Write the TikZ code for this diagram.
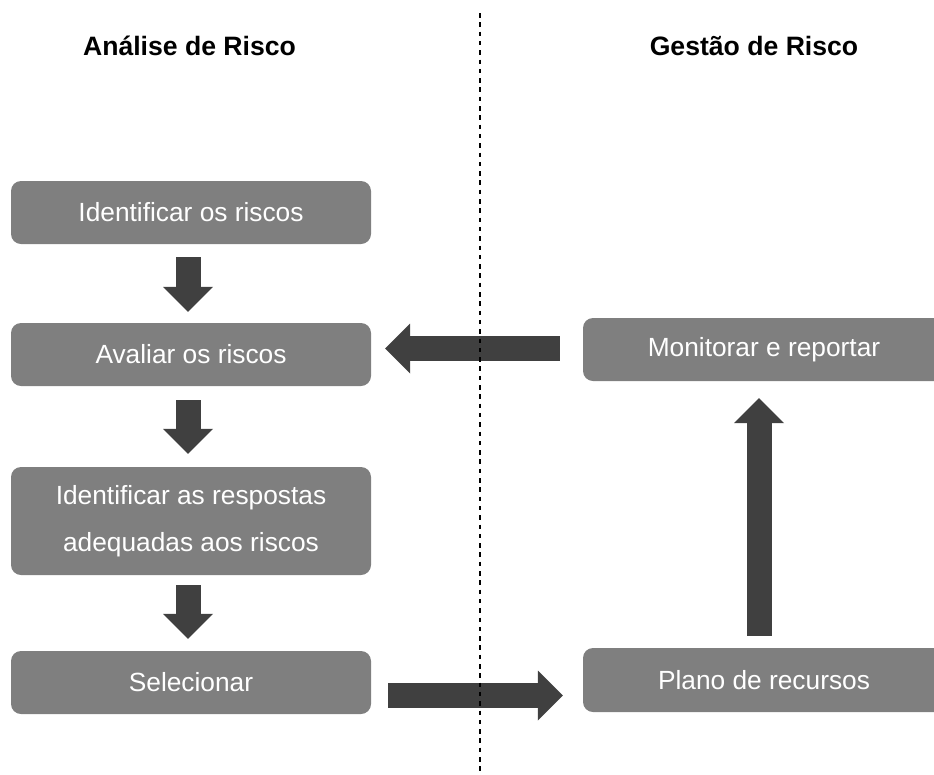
\documentclass[tikz,border=0pt]{standalone}
\usepackage{fontspec}
\setmainfont{Liberation Sans}
\usetikzlibrary{arrows.meta}
\definecolor{boxgray}{HTML}{7F7F7F}
\definecolor{arrowgray}{HTML}{404040}
\begin{document}
\begin{tikzpicture}[x=1pt,y=-1pt,
  box/.style={fill=boxgray, rounded corners=10pt, text=white, minimum width=360pt, minimum height=63pt, inner sep=0pt, align=center, font=\fontsize{26.3}{47}\selectfont},
  blk/.style={draw=arrowgray, line width=25pt, -{Triangle[length=25pt,width=50pt,line width=0pt]}},
  head/.style={font=\fontsize{26.6}{32}\selectfont\bfseries},
  divider/.style={draw=black, line width=1.6pt, dash pattern=on 4.5pt off 4.8pt}]
\useasboundingbox (0,0) rectangle (934,774);
\node[head] (hanal) at (189.5,46) {Análise de Risco};
\node[head] (hgest) at (754,46) {Gestão de Risco};
\node[box] (ident) at (191,212.5) {Identificar os riscos};
\node[box] (aval) at (191,354.5) {Avaliar os riscos};
\node[box, minimum height=108pt] (resp) at (191,521) {Identificar as respostas\\adequadas aos riscos};
\node[box] (sel) at (191,682.5) {Selecionar};
\node[box, minimum width=362pt] (monit) at (764,349.5) {Monitorar e reportar};
\node[box, minimum width=362pt, minimum height=64pt] (plano) at (764,680) {Plano de recursos};
\draw[blk, shorten <=13pt, shorten >=11pt] ([xshift=-3pt]ident.south) -- ([xshift=-3pt]aval.north);
\draw[blk, shorten <=14pt, shorten >=13pt] ([xshift=-3pt]aval.south) -- ([xshift=-3pt]resp.north);
\draw[blk, shorten <=10pt, shorten >=12pt] ([xshift=-3pt]resp.south) -- ([xshift=-3pt]sel.north);
\draw[blk, shorten <=23pt, shorten >=14pt] ([yshift=1pt]monit.west) -- ([yshift=6pt]aval.east);
\draw[blk, shorten <=17pt, shorten >=20pt] ([yshift=-13pt]sel.east) -- ([yshift=-15.5pt]plano.west);
\draw[blk, shorten <=12pt, shorten >=17pt] ([xshift=-5pt]plano.north) -- ([xshift=-5pt]monit.south);
\coordinate (divtop) at (480,13);
\coordinate (divbot) at (480,774);
\draw[divider] (divtop) -- (divbot);
\end{tikzpicture}
\end{document}
